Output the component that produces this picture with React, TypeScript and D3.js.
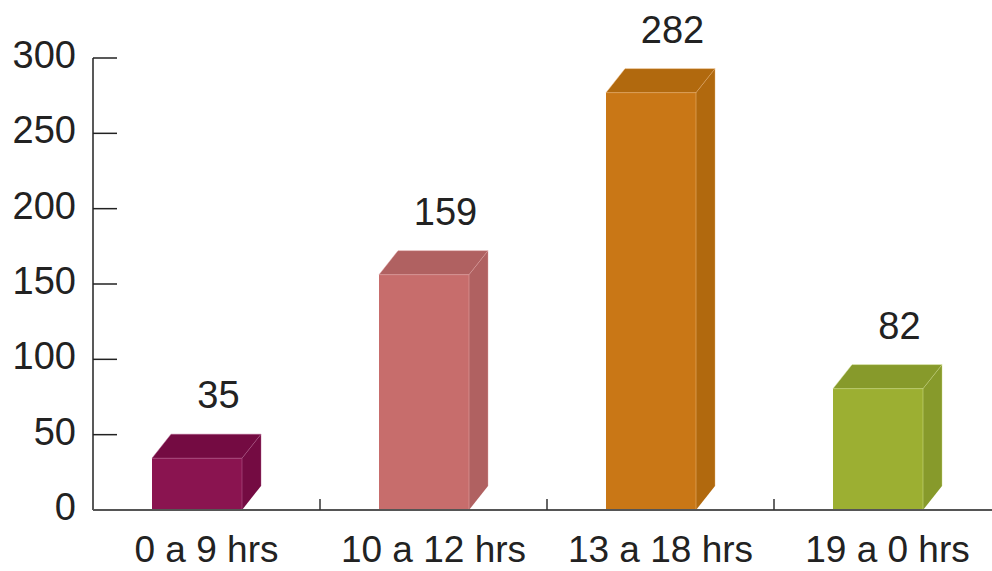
import React from "react";
import * as d3 from "d3";

const categories = ["0 a 9 hrs", "10 a 12 hrs", "13 a 18 hrs", "19 a 0 hrs"];
const values = [35, 159, 282, 82];
const yTicks = [0, 50, 100, 150, 200, 250, 300];
const frontColors = ["#8a1450", "#c76d6c", "#c97716", "#9caf32"];
const darkColors = ["#740b42", "#b06161", "#b1690e", "#879a2b"];
const edgeColors = ["#b0588a", "#e0a0a0", "#e8b070", "#c8d880"];

const W = 992;
const H = 571;
const left = 93;
const right = 1001;
const y0 = 510;
const yTop = 58;
const dx = 19;
const dy = 24;
const frontW = 90;
const fs = 38;
const font = "'Liberation Sans', Arial, Helvetica, sans-serif";

export default function App() {
  const x = d3.scaleBand<string>().domain(categories).range([left, right]).paddingInner(0).paddingOuter(0);
  const y = d3.scaleLinear().domain([0, 300]).range([y0, yTop]);
  // bars in the reference's 3D projection rise slightly less than the axis scale
  const barY = d3.scaleLinear().domain([0, 300]).range([y0, 66]);
  const bw = x.bandwidth();

  return (
    <svg width={W} height={H} style={{ position: "absolute", left: 0, top: 0, background: "#fff" }}>
      {/* bars */}
      {categories.map((c, i) => {
        const cx = (x(c) as number) + bw / 2;
        const fl = cx - (frontW + dx) / 2;
        const fr = fl + frontW;
        const ft = barY(values[i]);
        const top = `${fl},${ft} ${fl + dx},${ft - dy} ${fr + dx},${ft - dy} ${fr},${ft}`;
        const side = `${fr},${ft} ${fr + dx},${ft - dy} ${fr + dx},${y0 - dy} ${fr},${y0}`;
        return (
          <g key={c}>
            <polygon points={side} fill={darkColors[i]} />
            <polygon points={top} fill={darkColors[i]} />
            <rect x={fl} y={ft} width={frontW} height={y0 - ft} fill={frontColors[i]} />
            <polyline points={`${fl},${ft} ${fr},${ft} ${fr},${y0}`} fill="none" stroke={edgeColors[i]} strokeWidth={1} strokeOpacity={0.6} />
            <polyline points={`${fl},${ft} ${fl + dx},${ft - dy} ${fr + dx},${ft - dy} ${fr},${ft}`} fill="none" stroke={edgeColors[i]} strokeWidth={1} strokeOpacity={0.45} />
            <line x1={fr + dx} y1={ft - dy} x2={fr + dx} y2={y0 - dy} stroke={edgeColors[i]} strokeWidth={1} strokeOpacity={0.4} />
            <text x={cx + 12} y={ft - dy - 26} textAnchor="middle" fontFamily={font} fontSize={fs} fill="#222">
              {values[i]}
            </text>
          </g>
        );
      })}

      {/* y axis */}
      <line x1={left} y1={yTop} x2={left} y2={y0} stroke="#222" strokeWidth={1.5} />
      {yTicks.map((t) => (
        <g key={t}>
          <line x1={left} y1={y(t)} x2={left + 24} y2={y(t)} stroke="#222" strokeWidth={1.5} />
          <text x={76} y={y(t) + 10} textAnchor="end" fontFamily={font} fontSize={fs} fill="#222">
            {t}
          </text>
        </g>
      ))}

      {/* x axis */}
      <line x1={left} y1={y0} x2={right} y2={y0} stroke="#555" strokeWidth={2.2} />
      {categories.slice(1).map((c) => (
        <line key={c} x1={x(c) as number} y1={y0} x2={x(c) as number} y2={y0 - 11} stroke="#333" strokeWidth={1.5} />
      ))}
      {categories.map((c) => (
        <text key={c} x={(x(c) as number) + bw / 2} y={562} textAnchor="middle" fontFamily={font} fontSize={37} fill="#222">
          {c}
        </text>
      ))}
    </svg>
  );
}
